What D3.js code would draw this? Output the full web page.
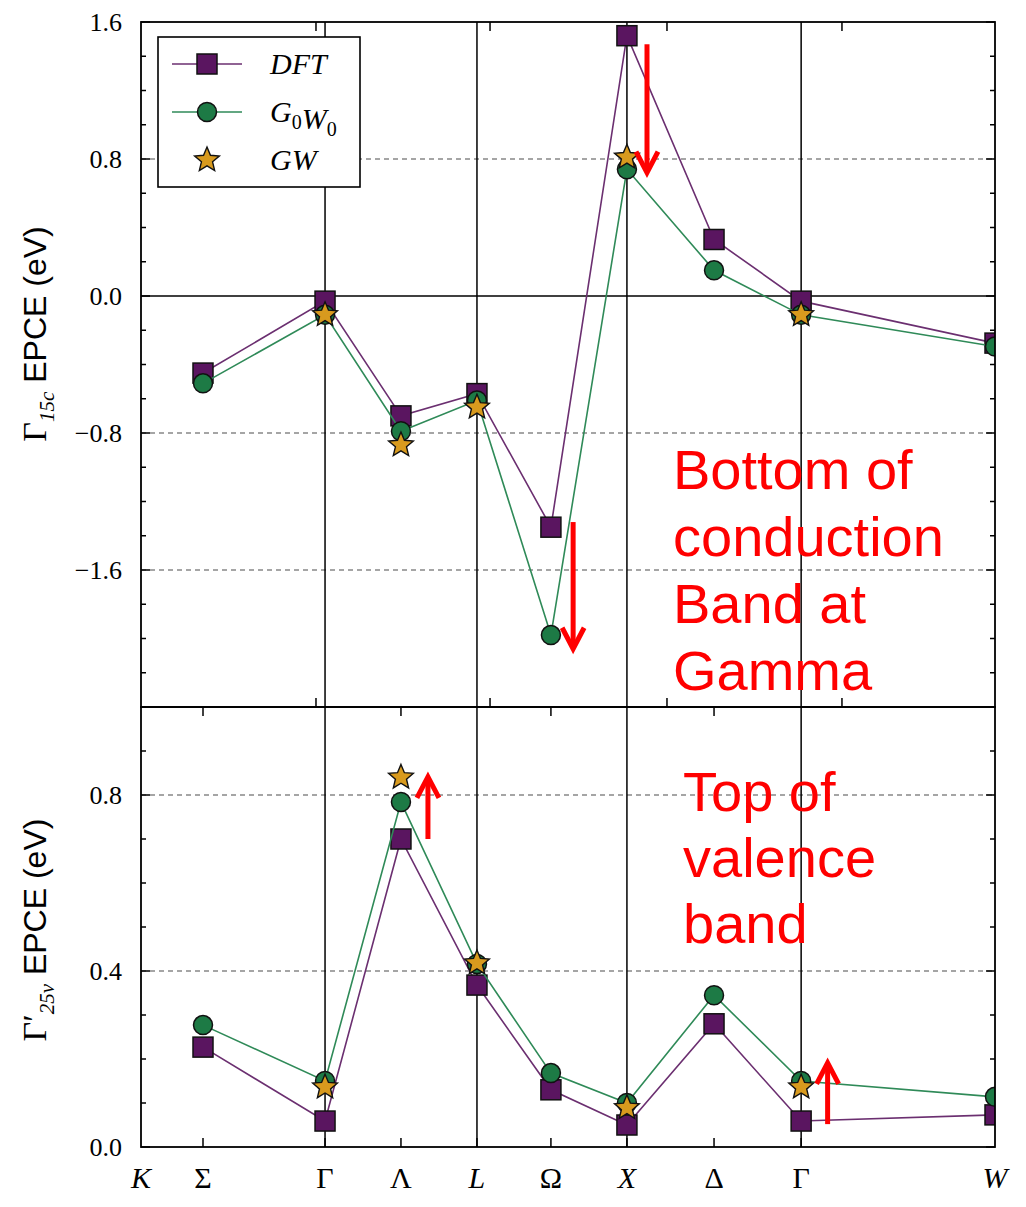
<!DOCTYPE html>
<html>
<head>
<meta charset="utf-8">
<style>
  body { margin: 0; background: #fff; }
  .grid { stroke: #888; stroke-width: 1.3px; stroke-dasharray: 5,4; }
  .vline { stroke: #000; stroke-width: 1.5px; }
  .frame { fill: none; stroke: #000; stroke-width: 1.8px; }
  .annot { font-family: "Liberation Sans", Arial, sans-serif; font-size: 56px; fill: #ff0000; }
</style>
</head>
<body>
<div id="chart"></div>
<script src="https://d3js.org/d3.v7.min.js"></script>
<script>

// k-path labels and their positions along the path (0..1)
var kLabels = ["K", "Σ", "Γ", "Λ", "L", "Ω", "X", "Δ", "Γ", "W"];
var kItalic = [true, false, false, false, true, false, true, false, false, true];
var kPos = [0, 0.0726, 0.2155, 0.3044, 0.3934, 0.480, 0.569, 0.671, 0.773, 1.0];
// data points sit on Σ ... W
var pointPos = kPos.slice(1);
var vlinePos = [0.2155, 0.3934, 0.569, 0.773];
var topPanelTicks = [0.2049, 0.4087, 0.6159, 0.8208];

// conduction band bottom (Γ15c), eV
var condDFT  = [-0.45, -0.03, -0.70, -0.57, -1.35, 1.52, 0.33, -0.03, -0.275];
var condG0W0 = [-0.51, -0.11, -0.79, -0.61, -1.98, 0.74, 0.15, -0.11, -0.295];
var condGW   = [null, -0.11, -0.87, -0.65, null, 0.81, null, -0.11, null];

// valence band top (Γ'25v), eV
var valDFT  = [0.227, 0.059, 0.70, 0.368, 0.13, 0.05, 0.28, 0.059, 0.073];
var valG0W0 = [0.277, 0.15, 0.784, 0.416, 0.168, 0.10, 0.345, 0.15, 0.114];
var valGW   = [null, 0.136, 0.84, 0.418, null, 0.089, null, 0.136, null];

var condTicks = [1.6, 0.8, 0.0, -0.8, -1.6];
var condGrid = [0.8, -0.8, -1.6];
var valTicks = [0.0, 0.4, 0.8];
var valGrid = [0.4, 0.8];

// red arrows [x, yFrom, yTo]
var condArrows = [[0.5925, 1.47, 0.72], [0.506, -1.32, -2.06]];
var valArrows = [[0.336, 0.70, 0.841], [0.804, 0.052, 0.191]];
var condText = ["Bottom of", "conduction", "Band at", "Gamma"];
var valText = ["Top of", "valence", "band"];

var colors = {
  dftLine: "#6b2f70", dftFill: "#5a1560",
  gwLine: "#2f8a58", gwFill: "#1d7a45",
  star: "#d89a1e"
};

var W = 1026, H = 1207;
var left = 141, right = 995;
var topY0 = 22, topY1 = 707, botY1 = 1147;

var svg = d3.select("#chart").append("svg")
    .attr("width", W).attr("height", H);

var x = d3.scaleLinear().domain([0, 1]).range([left, right]);
var yTop = d3.scaleLinear().domain([-2.4, 1.6]).range([topY1, topY0]);
var yBot = d3.scaleLinear().domain([0, 1.0]).range([botY1, topY1]);

// clip paths
var defs = svg.append("defs");
defs.append("clipPath").attr("id", "clipTop").append("rect")
    .attr("x", left).attr("y", topY0).attr("width", right - left).attr("height", topY1 - topY0);
defs.append("clipPath").attr("id", "clipBot").append("rect")
    .attr("x", left).attr("y", topY1).attr("width", right - left).attr("height", botY1 - topY1);

function starPath(r) {
  var pts = [];
  for (var i = 0; i < 10; i++) {
    var rr = i % 2 === 0 ? r : r * 0.45;
    var a = -Math.PI / 2 + i * Math.PI / 5;
    pts.push([rr * Math.cos(a), rr * Math.sin(a)]);
  }
  return "M" + pts.map(function(p) { return p.join(","); }).join("L") + "Z";
}

function drawPanel(y, clipId, dft, g0w0, gw, ticks, minorStep, grid, bottomTicks, topTicks) {
  var g = svg.append("g");
  var d0 = y.domain()[0], d1 = y.domain()[1];

  // dashed grid
  g.selectAll(".grid").data(grid).enter().append("line")
      .attr("class", "grid")
      .attr("x1", left).attr("x2", right)
      .attr("y1", function(d) { return y(d); }).attr("y2", function(d) { return y(d); });

  // zero line
  if (d0 < 0 && d1 > 0) {
    g.append("line").attr("class", "vline")
        .attr("x1", left).attr("x2", right).attr("y1", y(0)).attr("y2", y(0));
  }

  // vertical high-symmetry lines
  g.selectAll(".vl").data(vlinePos).enter().append("line")
      .attr("class", "vline")
      .attr("x1", function(d) { return x(d); }).attr("x2", function(d) { return x(d); })
      .attr("y1", y.range()[1]).attr("y2", y.range()[0]);

  // y ticks (inward, both sides)
  var minor = d3.range(Math.round(d0 / minorStep), Math.round(d1 / minorStep) + 1).map(function(i) { return i * minorStep; });
  [left, right].forEach(function(xx) {
    var dir = xx === left ? 1 : -1;
    g.selectAll(null).data(minor).enter().append("line")
        .attr("x1", xx).attr("x2", function(d) {
          var major = ticks.some(function(t) { return Math.abs(t - d) < 1e-6; });
          return xx + dir * (major ? 9 : 5);
        })
        .attr("y1", function(d) { return y(d); }).attr("y2", function(d) { return y(d); })
        .attr("stroke", "#000").attr("stroke-width", 1.5);
  });

  // y tick labels
  g.selectAll(".ylab").data(ticks).enter().append("text")
      .attr("x", left - 19).attr("y", function(d) { return y(d); })
      .attr("dy", "0.35em")
      .attr("text-anchor", "end")
      .style("font-family", "'Liberation Serif', serif")
      .style("font-size", "26px")
      .text(function(d) { return d3.format(".1f")(d).replace("-", "−"); });

  // x ticks on bottom (up) and top (down)
  g.selectAll(null).data(bottomTicks).enter().append("line")
      .attr("x1", function(d) { return x(d); }).attr("x2", function(d) { return x(d); })
      .attr("y1", y.range()[0]).attr("y2", y.range()[0] - 9)
      .attr("stroke", "#000").attr("stroke-width", 1.5);
  g.selectAll(null).data(topTicks).enter().append("line")
      .attr("x1", function(d) { return x(d); }).attr("x2", function(d) { return x(d); })
      .attr("y1", y.range()[1]).attr("y2", y.range()[1] + 9)
      .attr("stroke", "#000").attr("stroke-width", 1.5);

  // series
  var clip = g.append("g").attr("clip-path", "url(#" + clipId + ")");
  var line = d3.line()
      .defined(function(d) { return d[1] !== null; })
      .x(function(d) { return x(d[0]); })
      .y(function(d) { return y(d[1]); });
  function zipped(vals) { return pointPos.map(function(p, i) { return [p, vals[i]]; }); }

  clip.append("path").datum(zipped(dft))
      .attr("d", line).attr("fill", "none")
      .attr("stroke", colors.dftLine).attr("stroke-width", 1.6);
  clip.selectAll(".sq").data(zipped(dft)).enter().append("rect")
      .attr("x", function(d) { return x(d[0]) - 10; })
      .attr("y", function(d) { return y(d[1]) - 10; })
      .attr("width", 20).attr("height", 20)
      .attr("fill", colors.dftFill).attr("stroke", "#111").attr("stroke-width", 1.5);

  clip.append("path").datum(zipped(g0w0))
      .attr("d", line).attr("fill", "none")
      .attr("stroke", colors.gwLine).attr("stroke-width", 1.6);
  clip.selectAll(".ci").data(zipped(g0w0)).enter().append("circle")
      .attr("cx", function(d) { return x(d[0]); })
      .attr("cy", function(d) { return y(d[1]); })
      .attr("r", 9.5)
      .attr("fill", colors.gwFill).attr("stroke", "#111").attr("stroke-width", 1.5);

  clip.selectAll(".st").data(zipped(gw).filter(function(d) { return d[1] !== null; })).enter().append("path")
      .attr("d", starPath(13))
      .attr("transform", function(d) { return "translate(" + x(d[0]) + "," + y(d[1]) + ")"; })
      .attr("fill", colors.star).attr("stroke", "#111").attr("stroke-width", 1.4);

  // frame
  g.append("rect").attr("class", "frame")
      .attr("x", left).attr("y", y.range()[1])
      .attr("width", right - left).attr("height", y.range()[0] - y.range()[1]);
  return g;
}

drawPanel(yTop, "clipTop", condDFT, condG0W0, condGW, condTicks, 0.2, condGrid,
    topPanelTicks, topPanelTicks);
drawPanel(yBot, "clipBot", valDFT, valG0W0, valGW, valTicks, 0.1, valGrid,
    kPos.slice(1, 9), [kPos[1], kPos[3], kPos[5], kPos[7]]);

// x labels
svg.selectAll(".xlab").data(kLabels).enter().append("text")
    .attr("x", function(d, i) { return x(kPos[i]); })
    .attr("y", 1188)
    .attr("text-anchor", "middle")
    .style("font-family", "'Liberation Serif', serif")
    .style("font-size", "30px")
    .style("font-style", function(d, i) { return kItalic[i] ? "italic" : "normal"; })
    .text(function(d) { return d; });

// y axis titles
function yTitle(cy, main, sub) {
  var t = svg.append("text")
      .attr("transform", "translate(46," + cy + ") rotate(-90)")
      .attr("text-anchor", "middle");
  t.append("tspan").style("font-family", "'Liberation Serif', serif").style("font-size", "34px").text(main);
  t.append("tspan").attr("dy", 8).style("font-family", "'Liberation Serif', serif")
      .style("font-size", "21px").style("font-style", "italic").text(sub);
  t.append("tspan").attr("dy", -8).style("font-family", "'Liberation Sans', Arial, sans-serif")
      .style("font-size", "32px").text(" EPCE (eV)");
}
yTitle(334, "Γ", "15c");
yTitle(930, "Γ′", "25v");

// legend
var legend = svg.append("g");
legend.append("rect").attr("x", 158).attr("y", 37).attr("width", 202).attr("height", 150)
    .attr("fill", "#fff").attr("stroke", "#000").attr("stroke-width", 1.6);
var legRows = [
  {y: 64, line: colors.dftLine, mark: "sq", parts: [["DFT", ""]]},
  {y: 112, line: colors.gwLine, mark: "ci", parts: [["G", "0"], ["W", "0"]]},
  {y: 160, line: null, mark: "st", parts: [["GW", ""]]}
];
legRows.forEach(function(r) {
  if (r.line) {
    legend.append("line").attr("x1", 172).attr("x2", 242).attr("y1", r.y).attr("y2", r.y)
        .attr("stroke", r.line).attr("stroke-width", 1.6);
  }
  if (r.mark === "sq") {
    legend.append("rect").attr("x", 197).attr("y", r.y - 10).attr("width", 20).attr("height", 20)
        .attr("fill", colors.dftFill).attr("stroke", "#111").attr("stroke-width", 1.5);
  } else if (r.mark === "ci") {
    legend.append("circle").attr("cx", 207).attr("cy", r.y).attr("r", 9.5)
        .attr("fill", colors.gwFill).attr("stroke", "#111").attr("stroke-width", 1.5);
  } else {
    legend.append("path").attr("d", starPath(13)).attr("transform", "translate(207," + r.y + ")")
        .attr("fill", colors.star).attr("stroke", "#111").attr("stroke-width", 1.4);
  }
  var t = legend.append("text").attr("x", 270).attr("y", r.y + 10)
      .style("font-family", "'Liberation Serif', serif").style("font-size", "30px").style("font-style", "italic");
  r.parts.forEach(function(p) {
    t.append("tspan").attr("dy", 0).text(p[0]);
    if (p[1]) {
      t.append("tspan").attr("dy", 7).style("font-size", "20px").style("font-style", "normal").text(p[1]);
      t.append("tspan").attr("dy", -7).text("");
    }
  });
});

// red arrows
function arrow(y, a) {
  var xx = x(a[0]), y0 = y(a[1]), y1 = y(a[2]);
  var dir = y1 > y0 ? 1 : -1;
  svg.append("line").attr("x1", xx).attr("x2", xx).attr("y1", y0).attr("y2", y1 - dir * 2)
      .attr("stroke", "#ff0000").attr("stroke-width", 5);
  svg.append("path")
      .attr("d", "M" + (xx - 11) + "," + (y1 - dir * 21) + "L" + xx + "," + y1 + "L" + (xx + 11) + "," + (y1 - dir * 21))
      .attr("fill", "none").attr("stroke", "#ff0000").attr("stroke-width", 5);
}
condArrows.forEach(function(a) { arrow(yTop, a); });
valArrows.forEach(function(a) { arrow(yBot, a); });

// red annotations
svg.selectAll(".ct").data(condText).enter().append("text").attr("class", "annot")
    .attr("x", 673).attr("y", function(d, i) { return 489 + i * 67; }).text(function(d) { return d; });
svg.selectAll(".vt").data(valText).enter().append("text").attr("class", "annot")
    .attr("x", 683).attr("y", function(d, i) { return 811 + i * 66; }).text(function(d) { return d; });

</script>
</body>
</html>
